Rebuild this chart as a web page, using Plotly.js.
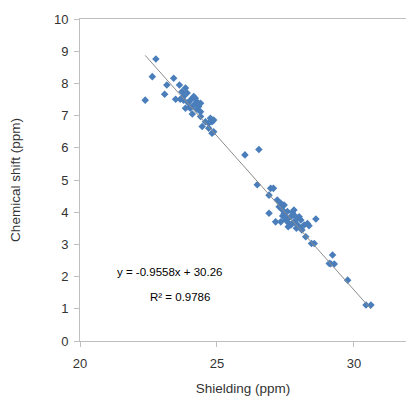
<!DOCTYPE html>
<html>
<head>
<meta charset="utf-8">
<script src="https://cdn.plot.ly/plotly-3.0.1.min.js"></script>
<style>html,body{margin:0;padding:0;background:#fff;}#chart{width:406px;height:396px;}</style>
</head>
<body>
<div id="chart"></div>
<script>
// Shielding (ppm)
const shielding = [
  22.38,22.64,22.77,23.09,23.17,23.42,23.49,23.63,23.66,23.72,23.78,23.85,23.91,23.78,23.85,24.03,24.15,24.15,24.21,24.27,24.33,24.40,24.40,24.27,24.40,24.46,24.58,24.70,24.70,24.76,24.82,24.88,24.82,24.88,24.00,24.10,23.95,24.03,
  26.02,26.53,26.47,26.96,27.06,26.90,
  27.20,27.33,27.45,27.27,27.39,26.90,27.57,27.69,27.81,27.94,27.14,27.33,27.51,27.63,27.81,28.06,28.18,28.00,28.30,27.81,28.00,28.61,28.36,28.24,28.55,27.45,27.57,27.70,27.90,27.60,27.75,27.50,28.10,27.40,27.88,28.45,
  29.22,29.10,29.28,29.15,29.77,30.44,30.62
];
// Chemical shift (ppm)
const shift = [
  7.48,8.21,8.76,7.66,7.95,8.16,7.51,7.95,7.51,7.74,7.59,7.86,7.70,7.48,7.23,7.48,7.59,7.33,7.54,7.43,7.28,7.38,7.12,7.20,6.97,6.66,6.81,6.76,6.61,6.92,6.81,6.86,6.45,6.50,7.25,7.05,7.40,7.23,
  5.78,5.95,4.85,4.74,4.74,4.53,
  4.38,4.28,4.22,4.17,4.07,3.97,4.02,3.86,3.91,3.81,3.70,3.70,3.76,3.65,3.70,3.76,3.60,3.55,3.65,4.07,3.86,3.79,3.58,3.24,3.03,3.95,3.80,3.60,3.50,3.55,4.00,3.85,3.45,3.88,3.66,3.03,
  2.67,2.41,2.39,2.40,1.89,1.12,1.12
];
const slope = -0.9558;
const intercept = 30.26;
const r2 = 0.9786;
const xTicks = [20, 25, 30];
const yTicks = [0,1,2,3,4,5,6,7,8,9,10];

const xmin = Math.min(...shielding), xmax = Math.max(...shielding);
const trendX = [xmin, xmax];
const trendY = trendX.map(v => slope * v + intercept);

const fam = '"Liberation Sans", Arial, sans-serif';
const tickFont = {family: fam, size: 13, color: '#333333'};
const titleFont = {family: fam, size: 13.5, color: '#333333'};
const annFont = {family: fam, size: 11.5, color: '#000000'};

const data = [
  {x: shielding, y: shift, type: 'scatter', mode: 'markers',
   marker: {symbol: 'diamond', size: 5.8, color: '#4a7ebb'}, hoverinfo: 'skip'},
  {x: trendX, y: trendY, type: 'scatter', mode: 'lines',
   line: {color: '#8c8c8c', width: 1}, hoverinfo: 'skip'}
];

const layout = {
  width: 406, height: 396,
  margin: {l: 80, r: 0, t: 19, b: 55},
  showlegend: false,
  paper_bgcolor: '#fff', plot_bgcolor: '#fff',
  font: tickFont,
  xaxis: {
    range: [20, 31.9], tickvals: xTicks, ticktext: xTicks.map(String),
    showgrid: false, zeroline: false, showline: true, linecolor: '#bfbfbf', linewidth: 1,
    mirror: true, ticks: 'outside', ticklen: 5, tickcolor: '#bfbfbf',
    ticklabelstandoff: 5, tickfont: tickFont,
    title: {text: 'Shielding (ppm)', font: titleFont, standoff: 14}
  },
  yaxis: {
    range: [0, 10], tickvals: yTicks, ticktext: yTicks.map(String),
    showgrid: false, zeroline: false, showline: true, linecolor: '#bfbfbf', linewidth: 1,
    ticks: 'outside', ticklen: 5, tickcolor: '#bfbfbf',
    ticklabelstandoff: 3, tickfont: tickFont,
    title: {text: 'Chemical shift (ppm)', font: titleFont, standoff: 30}
  },
  annotations: [
    {xref: 'paper', yref: 'paper', x: 0.276, y: 0.214, xanchor: 'center', yanchor: 'middle', showarrow: false,
     text: 'y = ' + slope + 'x + ' + intercept.toFixed(2), font: annFont},
    {xref: 'paper', yref: 'paper', x: 0.307, y: 0.137, xanchor: 'center', yanchor: 'middle', showarrow: false,
     text: 'R² = ' + r2, font: annFont}
  ]
};

Plotly.newPlot('chart', data, layout, {displayModeBar: false, staticPlot: true});
</script>
</body>
</html>
